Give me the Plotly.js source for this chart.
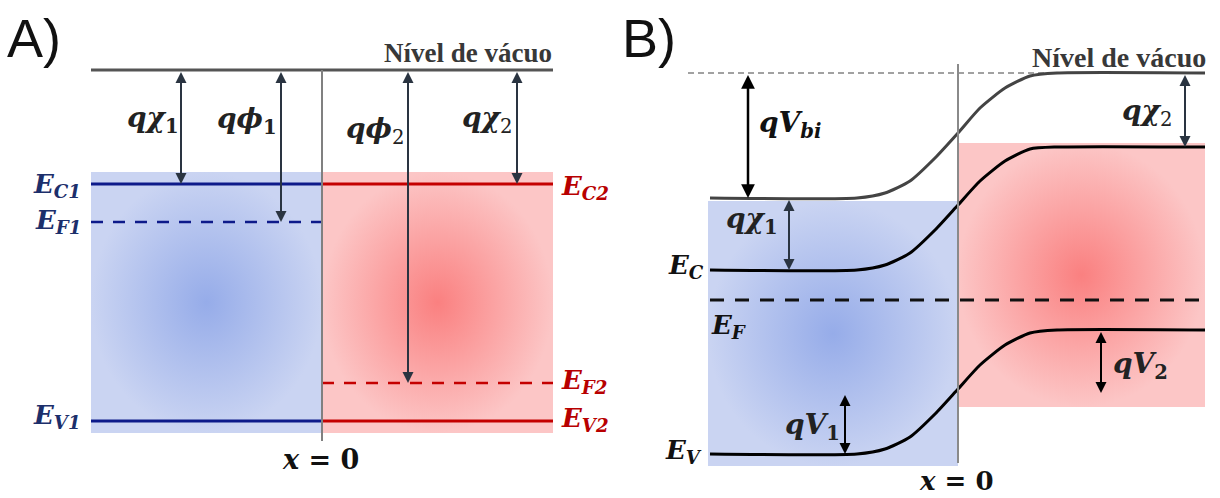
<!DOCTYPE html>
<html><head><meta charset="utf-8">
<script src="https://cdn.plot.ly/plotly-3.0.1.min.js"></script>
<style>html,body{margin:0;padding:0;background:#fff}</style>
</head><body><div id="chart" style="width:1220px;height:498px"></div>
<script>
// ---------- DATA (energy positions; axis points downward = lower energy) ----------
// Panel A: isolated materials
const aVacuum = 70;
const aEC = [184, 184];   // [material 1, material 2]
const aEF = [222, 383];
const aEV = [421, 421];
const aLabels1 = ['E<sub>C1</sub>', 'E<sub>F1</sub>', 'E<sub>V1</sub>'];
const aLabels2 = ['E<sub>C2</sub>', 'E<sub>F2</sub>', 'E<sub>V2</sub>'];
// Panel B: junction in equilibrium
const bX      = [710, 857, 885, 910, 935, 958, 980, 1005, 1030, 1057, 1205];
const bVacuum = [198, 198, 193, 181, 158, 133, 108, 88, 76, 73, 73];
const bEC     = [270, 270, 265, 253, 230, 205, 181, 161, 149, 147, 147];
const bEV     = [454, 454, 449, 437, 414, 389, 365, 345, 333, 330, 330];
const bEF = 300;
const bVacRef = 73;
const bV1tail = 393, bV2tail = 393;

// ---------- LAYOUT GEOMETRY ----------
const A = {x0: 91, xj: 322, x1: 553, top: 172, bot: 433, jTop: 70, jBot: 441};
const B = {x0: 708, xj: 958, x1: 1205, lTop: 201, lBot: 466, rTop: 143, rBot: 407, jTop: 64, jBot: 463, refX0: 688};

const BLUE_LINE = '#0d1a8a', RED_LINE = '#c40000';
const BLUE_TXT = '#1c2f6b', RED_TXT = '#b80000';
const ARROW = '#2a3441';
const blueScale = [[0, 'rgb(150,172,233)'], [1, 'rgb(202,212,242)']];
const redScale  = [[0, 'rgb(250,128,128)'], [1, 'rgb(252,198,198)']];

function rect(x0, x1, y0, y1, scale) {
  return {x: [x0, x1, x1, x0, x0], y: [y0, y0, y1, y1, y0], mode: 'lines', fill: 'toself',
    line: {width: 0}, fillgradient: {type: 'radial', colorscale: scale}, hoverinfo: 'skip', showlegend: false};
}
function hline(x0, x1, y, color, width, dash) {
  return {x: [x0, x1], y: [y, y], mode: 'lines', line: {color: color, width: width, dash: dash || 'solid'},
    hoverinfo: 'skip', showlegend: false};
}
function vline(x, y0, y1, color, width) {
  return {x: [x, x], y: [y0, y1], mode: 'lines', line: {color: color, width: width}, hoverinfo: 'skip', showlegend: false};
}
function curve(ys, color, width) {
  return {x: bX, y: ys, mode: 'lines', line: {color: color, width: width, shape: 'spline', smoothing: 0.6},
    hoverinfo: 'skip', showlegend: false};
}

const traces = [
  rect(A.x0, A.xj, A.top, A.bot, blueScale),
  rect(A.xj, A.x1, A.top, A.bot, redScale),
  rect(B.x0, B.xj, B.lTop, B.lBot, blueScale),
  rect(B.xj, B.x1, B.rTop, B.rBot, redScale),
  // Panel A
  hline(A.x0, A.x1, aVacuum, '#555555', 3),
  hline(A.x0, A.xj, aEC[0], BLUE_LINE, 3),
  hline(A.xj, A.x1, aEC[1], RED_LINE, 3),
  hline(A.x0, A.xj, aEF[0], BLUE_LINE, 2.5, '12px,10px'),
  hline(A.xj, A.x1, aEF[1], RED_LINE, 2.5, '12px,10px'),
  hline(A.x0, A.xj, aEV[0], BLUE_LINE, 3),
  hline(A.xj, A.x1, aEV[1], RED_LINE, 3),
  vline(A.xj, A.jTop, A.jBot, '#808080', 2),
  // Panel B
  hline(B.refX0, bX[bX.length - 2], bVacRef, '#444444', 1.2, '6px,4px'),
  hline(bX[0], B.x1, bEF, '#111111', 3, '14px,11px'),
  curve(bVacuum, '#444444', 3),
  curve(bEC, '#000000', 3),
  curve(bEV, '#000000', 3),
  vline(B.xj, B.jTop, B.jBot, '#8a8a8a', 2)
];

const MATH = 'DejaVu Serif';
function txt(x, y, text, size, color, xanchor, family) {
  return {x: x, y: y, xref: 'x', yref: 'y', text: text, showarrow: false, xanchor: xanchor || 'center', yanchor: 'middle',
    borderpad: 0, font: {family: family || MATH, size: size, color: color || '#222'}};
}
function arrow(x, y0, y1, color, width) {
  return {x: x, y: y1, ax: x, ay: y0, xref: 'x', yref: 'y', axref: 'x', ayref: 'y', text: ' ', showarrow: true,
    arrowside: 'end+start', arrowhead: 2, startarrowhead: 2, arrowsize: 1.1, startarrowsize: 1.1,
    arrowwidth: width || 2, arrowcolor: color || ARROW, standoff: 0, startstandoff: 0,
    font: {size: 1}};
}
const mb = s => '<b><i>' + s + '</i></b>';
const QS = 28, ES = 26;

const annotations = [
  // panel titles
  txt(6, 38, 'A)', 54, '#111', 'left', 'Liberation Sans'),
  txt(621, 38, 'B)', 54, '#111', 'left', 'Liberation Sans'),
  // vacuum level
  txt(553, 53, '<b>Nível de vácuo</b>', 27, '#383838', 'right', 'Liberation Serif'),
  txt(1207, 57, '<b>Nível de vácuo</b>', 28, '#383838', 'right', 'Liberation Serif'),
  // Panel A arrows
  arrow(181, aVacuum, aEC[0]),
  arrow(281, aVacuum, aEF[0]),
  arrow(408, aVacuum, aEF[1]),
  arrow(517, aVacuum, aEC[1]),
  txt(153, 119, '<b><i>qχ</i><sub>1</sub></b>', QS),
  txt(247, 120, '<b><i>qϕ</i><sub>1</sub></b>', QS),
  txt(375, 130, '<b><i>qϕ</i></b><sub>2</sub>', QS),
  txt(487, 119, '<b><i>qχ</i></b><sub>2</sub>', QS),
  // Panel A level labels
  txt(82, aEC[0] + 1, mb(aLabels1[0]), ES, BLUE_TXT, 'right'),
  txt(82, aEF[0] - 1, mb(aLabels1[1]), ES, BLUE_TXT, 'right'),
  txt(82, aEV[0] - 5, mb(aLabels1[2]), ES, BLUE_TXT, 'right'),
  txt(560, aEC[1] + 3, mb(aLabels2[0]), ES, RED_TXT, 'left'),
  txt(560, aEF[1] - 2, mb(aLabels2[1]), ES, RED_TXT, 'left'),
  txt(560, aEV[1] - 2, mb(aLabels2[2]), ES, RED_TXT, 'left'),
  txt(320, 459, '<b><i>x</i> = 0</b>', 27, '#111'),
  // Panel B arrows
  arrow(748, bVacRef, bVacuum[0], '#000', 2.5),
  arrow(789, bVacuum[0], bEC[0]),
  arrow(1185, bVacRef, bEC[bEC.length - 1]),
  arrow(845, bV1tail, bEV[0], '#000', 2),
  arrow(1101, bEV[bEV.length - 1], bV2tail, '#000', 2),
  txt(790, 124, mb('qV<sub>bi</sub>'), QS, '#111'),
  txt(752, 220, '<b><i>qχ</i><sub>1</sub></b>', QS),
  txt(1147, 112, '<b><i>qχ</i></b><sub>2</sub>', QS),
  txt(812, 426, mb('qV') + '<b><sub>1</sub></b>', QS),
  txt(1140, 365, mb('qV') + '<b><sub>2</sub></b>', QS),
  txt(705, 266, mb('E<sub>C</sub>'), ES, '#111', 'right'),
  txt(710, 326, mb('E<sub>F</sub>'), ES, '#111', 'left'),
  txt(703, 451, mb('E<sub>V</sub>'), ES, '#111', 'right'),
  txt(956, 481, '<b><i>x</i> = 0</b>', 26, '#111')
];

const layout = {
  width: 1220, height: 498, margin: {l: 0, r: 0, t: 0, b: 0},
  paper_bgcolor: '#ffffff', plot_bgcolor: '#ffffff', showlegend: false,
  xaxis: {range: [0, 1220], visible: false, fixedrange: true},
  yaxis: {range: [498, 0], visible: false, fixedrange: true},
  annotations: annotations
};
Plotly.newPlot('chart', traces, layout, {staticPlot: true, displayModeBar: false});
</script></body></html>
